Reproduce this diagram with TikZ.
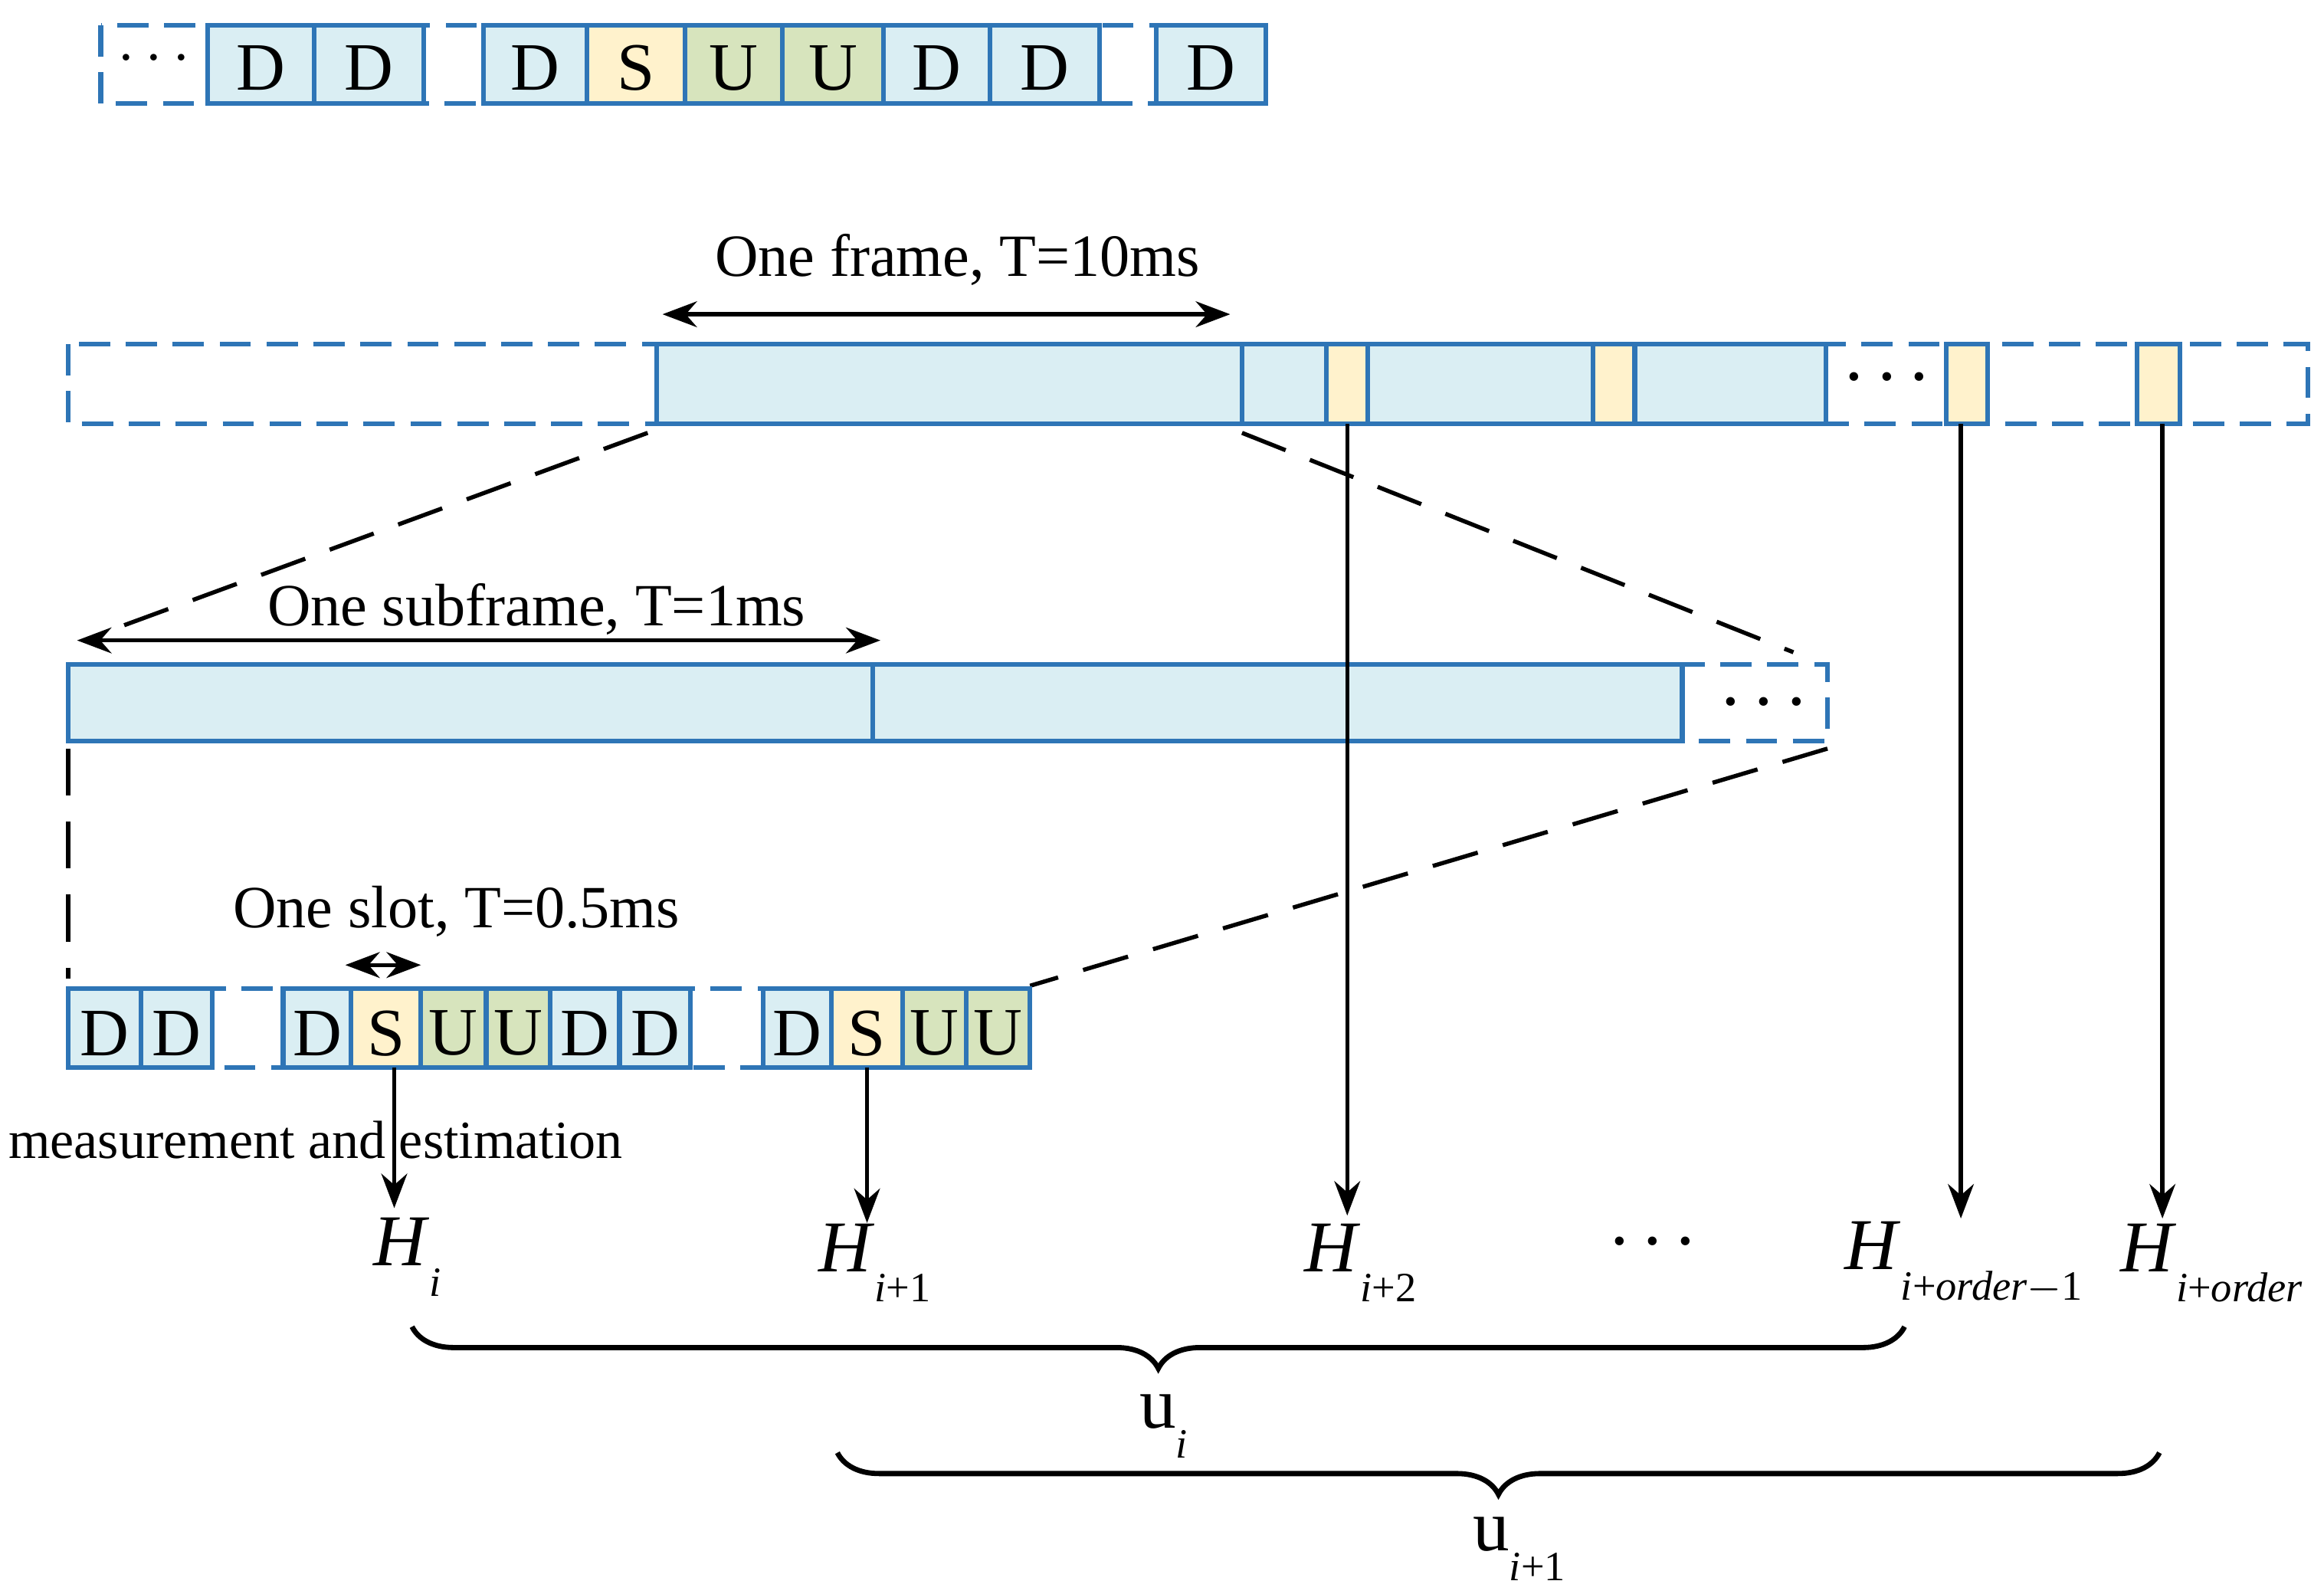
\documentclass[tikz,border=0pt]{standalone}
\usepackage{fontspec}
\setmainfont{Liberation Serif}
\usetikzlibrary{arrows.meta,decorations.pathreplacing}
\definecolor{cellblue}{HTML}{DAEEF3}
\definecolor{edgeblue}{HTML}{2E75B6}
\definecolor{cellyel}{HTML}{FFF2CC}
\definecolor{cellgrn}{HTML}{D7E4BD}
\newcommand\chan[1]{\textit{H}\raisebox{-0.9ex}{\fontsize{8}{9}\selectfont #1}}
\newcommand\bdots{{\fontsize{7}{8}\selectfont\textbullet\hspace{0.55em}\textbullet\hspace{0.55em}\textbullet}}
\tikzset{
  cell/.style={draw=edgeblue,line width=0.9pt},
  gap/.style={draw=edgeblue,line width=0.9pt,dash pattern=on 6pt off 3pt},
  zoom/.style={line width=0.8pt,dash pattern=on 9pt off 5pt},
  span/.style={{Stealth}-{Stealth},line width=0.8pt},
  lbl/.style={font=\fontsize{11.5}{13}\selectfont,inner sep=0pt},
  big/.style={font=\fontsize{13}{15}\selectfont,inner sep=0pt},
  dots/.style={inner sep=0pt},
  hlab/.style={font=\fontsize{14}{16}\selectfont,inner sep=1pt},
  brc/.style={line width=1pt,decorate,decoration={brace,amplitude=8pt,mirror}}
}
\begin{document}
\begin{tikzpicture}[x=0.01cm,y=-0.01cm,>=Stealth]
	\useasboundingbox (0,0) rectangle (1568,1075);
	% top row
	\draw[gap] (68,17) rectangle (854,70);
	\node[big] at (104,40) {$\cdots$};
	\foreach \a/\b/\l/\c in {140/212/D/cellblue,212/286/D/cellblue,326/396/D/cellblue,396/462/S/cellyel,462/528/U/cellgrn,528/596/U/cellgrn,596/668/D/cellblue,668/742/D/cellblue,780/854/D/cellblue}
	{\draw[cell,fill=\c] (\a,17) rectangle (\b,70);
	 \node[big] at ({(\a+\b)/2},46) {\l};}
	% frame row
	\draw[gap] (46,232) rectangle (1557,286);
	\foreach \a/\b/\c in {443/838/cellblue,838/895/cellblue,895/923/cellyel,923/1075/cellblue,1075/1103/cellyel,1103/1232/cellblue,1313/1341/cellyel,1442/1471/cellyel}
	\draw[cell,fill=\c] (\a,232) rectangle (\b,286);
	\node[dots] at (1273,257) {\bdots};
	\coordinate (fa) at (447,212);
	\coordinate (fb) at (830,212);
	\draw[span] (fa) -- (fb);
	\node[lbl] (frame) at (646,175) {One frame, T=10ms};
	% subframe row
	\draw[gap] (1135,448) rectangle (1233,500);
	\foreach \a/\b in {46/589,589/1135}
	\draw[cell,fill=cellblue] (\a,448) rectangle (\b,500);
	\node[dots] at (1190,476) {\bdots};
	\coordinate (sa) at (52,432);
	\coordinate (sb) at (594,432);
	\draw[span] (sa) -- (sb);
	\node[lbl] (subframe) at (362,411) {One subframe, T=1ms};
	% zoom lines
	\draw[zoom] (437,292) -- (75,425);
	\draw[zoom] (838,292) -- (1210,440);
	\draw[zoom] (46,505) -- (46,660);
	\draw[zoom] (1233,505) -- (695,665);
	% slot row
	\draw[gap] (46,667) rectangle (695,720);
	\foreach \a/\b/\l/\c in {46/95/D/cellblue,95/143/D/cellblue,191/237/D/cellblue,237/284/S/cellyel,284/328/U/cellgrn,328/371/U/cellgrn,371/418/D/cellblue,418/466/D/cellblue,515/561/D/cellblue,561/609/S/cellyel,609/652/U/cellgrn,652/695/U/cellgrn}
	{\draw[cell,fill=\c] (\a,667) rectangle (\b,720);
	 \node[big] at ({(\a+\b)/2},697) {\l};}
	\coordinate (la) at (233,651);
	\coordinate (lb) at (284,651);
	\draw[span] (la) -- (lb);
	\node[lbl] (slot) at (308,615) {One slot, T=0.5ms};
	% channel labels
	\node[hlab] (h0) at (275,848) {\chan{\textit{i}}};
	\node[hlab] (h1) at (590,852) {\chan{\textit{i}+1}};
	\node[hlab] (h2) at (918,852) {\chan{\textit{i}+2}};
	\node[dots] (hd) at (1115,840) {\bdots};
	\node[hlab] (h3) at (1325,852) {\chan{\textit{i}+\textit{order}$-$1}};
	\node[hlab] (h4) at (1492,852) {\chan{\textit{i}+\textit{order}}};
	\node[font=\fontsize{10.3}{12}\selectfont,inner sep=0pt] (meas) at (213,769) {measurement and estimation};
	\coordinate (p0) at (266,720);
	\coordinate (p1) at (585,720);
	\coordinate (p2) at (909,286);
	\coordinate (p3) at (1323,286);
	\coordinate (p4) at (1459,286);
	\coordinate (q0) at (266,815);
	\coordinate (q1) at (585,825);
	\coordinate (q2) at (909,820);
	\coordinate (q3) at (1323,822);
	\coordinate (q4) at (1459,822);
	\foreach \k in {0,...,4}
	\draw[->,line width=0.8pt] (p\k) -- (q\k);
	% windows
	\coordinate (ba) at (278,895);
	\coordinate (bb) at (1285,895);
	\coordinate (bc) at (565,980);
	\coordinate (bd) at (1457,980);
	\draw[brc] (ba) -- (bb);
	\draw[brc] (bc) -- (bd);
	\node[hlab] (ui) at (785,962) {u\raisebox{-0.9ex}{\fontsize{8}{9}\selectfont\textit{i}}};
	\node[hlab] (uj) at (1025,1045) {u\raisebox{-0.9ex}{\fontsize{8}{9}\selectfont\textit{i}+1}};
\end{tikzpicture}
\end{document}
